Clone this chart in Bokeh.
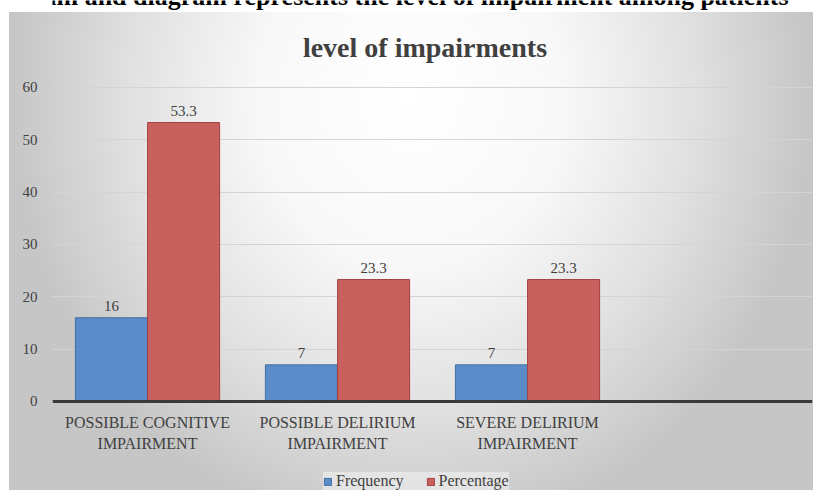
from bokeh.plotting import figure
from bokeh.models import ColumnDataSource, Legend, LegendItem, Label, FixedTicker, Range1d, FactorRange
from bokeh.transform import dodge
from bokeh.core.properties import value
from bokeh.embed import file_html
from bokeh.resources import INLINE

# ---- data ----
categories = ["POSSIBLE COGNITIVE\nIMPAIRMENT", "POSSIBLE DELIRIUM\nIMPAIRMENT", "SEVERE DELIRIUM\nIMPAIRMENT"]
empty_slot = [" "]
frequency = [16, 7, 7]
percentage = [53.3, 23.3, 23.3]
series_names = ["Frequency", "Percentage"]
y_ticks = [0, 10, 20, 30, 40, 50, 60]
chart_title = "level of impairments"
caption = "agram and diagram represents the level of impairment among patients"

FONT = "'Liberation Serif', serif"
TXT = "#404040"
BLUE, BLUE_LINE = "#5b8bc8", "#41709f"
RED, RED_LINE = "#c8605e", "#a4413f"

src = ColumnDataSource(dict(
    cat=categories,
    freq=frequency,
    pct=percentage,
    freq_lbl=[f"{v:g}" for v in frequency],
    pct_lbl=[f"{v:g}" for v in percentage],
))

# frame spans full height; x axis pinned at y=0
p = figure(width=818, height=490,
           x_range=FactorRange(factors=categories + empty_slot),
           y_range=Range1d(-17.006, 76.62),
           output_backend="svg", toolbar_location=None,
           min_border_left=52, min_border_right=6,
           min_border_top=0, min_border_bottom=0)

p.background_fill_alpha = 0
p.border_fill_alpha = 0
p.outline_line_color = None
p.styles = {
    "background": "radial-gradient(400px 440px at 50% 18%, #ffffff 0%, #f8f8f8 38%, #e1e1e1 70%, #c6c6c6 100%) 9px 12px / 804px 478px no-repeat, #ffffff"
}

# axes
p.yaxis.ticker = FixedTicker(ticks=y_ticks)
p.yaxis.axis_line_color = None
p.yaxis.major_tick_line_color = None
p.yaxis.minor_tick_line_color = None
p.yaxis.major_label_standoff = 9
p.yaxis.major_label_text_font = FONT
p.yaxis.major_label_text_font_size = "15px"
p.yaxis.major_label_text_color = TXT

p.xaxis.fixed_location = 0
p.xaxis.axis_line_width = 3
p.xaxis.axis_line_color = "#3a3a3a"
p.xaxis.major_tick_line_color = None
p.xaxis.minor_tick_line_color = None
p.xaxis.major_label_standoff = 7
p.xaxis.major_label_text_font = FONT
p.xaxis.major_label_text_font_size = "16px"
p.xaxis.major_label_text_color = TXT

p.xgrid.grid_line_color = None
p.ygrid.ticker = FixedTicker(ticks=y_ticks)
p.ygrid.grid_line_color = "#d4d4d4"
p.ygrid.grid_line_width = 1

# bars
off = 0.19
w = 0.379
r1 = p.vbar(x=dodge("cat", -off, range=p.x_range), top="freq", width=w, source=src,
            fill_color=BLUE, line_color=BLUE_LINE, line_width=1)
r2 = p.vbar(x=dodge("cat", off, range=p.x_range), top="pct", width=w, source=src,
            fill_color=RED, line_color=RED_LINE, line_width=1)

# data labels
for col, lbl, o in (("freq", "freq_lbl", -off), ("pct", "pct_lbl", off)):
    p.text(x=dodge("cat", o, range=p.x_range), y=col, text=lbl, source=src,
           text_align="center", text_baseline="alphabetic", y_offset=-12,
           text_font=value(FONT), text_font_size="15px", text_color=TXT)

# title and clipped caption
p.add_layout(Label(x=1.9605, y=67.6, text=chart_title, text_align="center",
                   text_baseline="alphabetic", text_font=FONT, text_font_size="28px",
                   text_font_style="bold", text_color=TXT))
p.add_layout(Label(x=-0.245, y=77.35, text=caption, text_align="left",
                   text_baseline="alphabetic", text_font=FONT, text_font_size="26px",
                   text_font_style="bold", text_color="#000000"))

legend = Legend(items=[LegendItem(label=series_names[0], renderers=[r1]),
                       LegendItem(label=series_names[1], renderers=[r2])],
                orientation="horizontal", location=(271, 0),
                glyph_width=9, glyph_height=9, label_standoff=4, spacing=22,
                padding=7, margin=0, label_height=16,
                label_text_font=FONT, label_text_font_size="16px", label_text_color=TXT,
                background_fill_color="#f4f4f4", background_fill_alpha=0.55,
                border_line_color=None)
p.add_layout(legend)

open("out.html", "w").write(file_html(p, INLINE))
